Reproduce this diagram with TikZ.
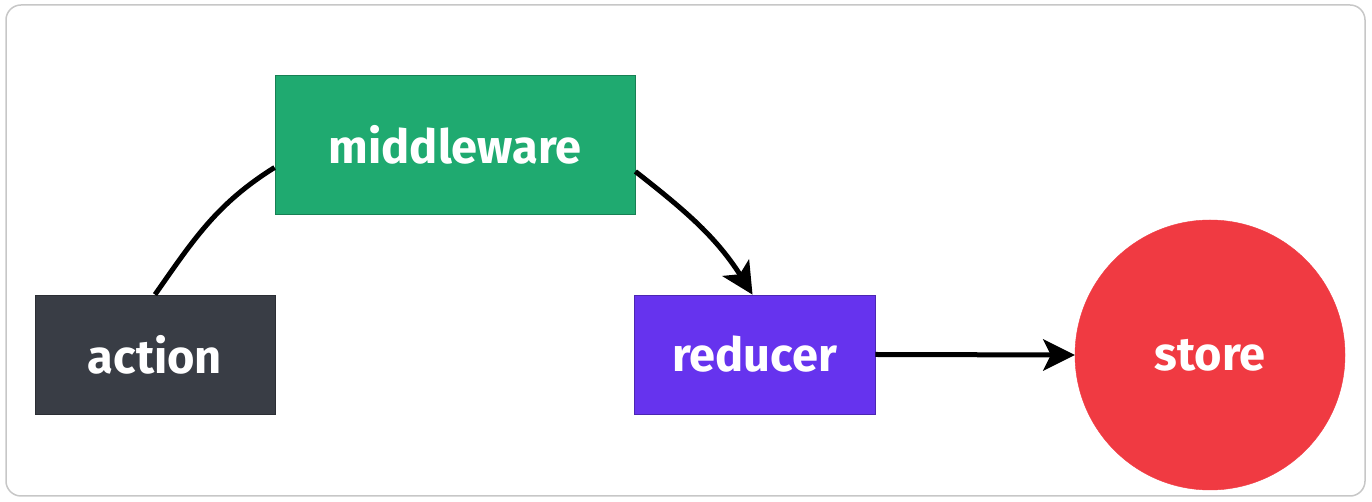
\documentclass[tikz,border=0pt]{standalone}
\usepackage{fontspec}
\setmainfont{Fira Sans}
\definecolor{mwgreen}{HTML}{1FAA70}
\definecolor{actdark}{HTML}{393D45}
\definecolor{redpurple}{HTML}{6633EE}
\definecolor{storered}{HTML}{F03A42}
\tikzset{
  box/.style={rectangle, draw=#1!75!black, fill=#1, line width=0.8pt, inner sep=0pt, text=white, font=\fontsize{47}{50}\selectfont\bfseries},
  conn/.style={line width=5pt, draw=black},
  headfill/.style={fill=black},
}
\begin{document}
\begin{tikzpicture}[x=1pt,y=1pt]
\useasboundingbox (0,0) rectangle (1372,502);
\draw[rounded corners=15pt, draw=black!22, line width=1.5pt, fill=white] (6,6) rectangle (1365,497);
\node[box=mwgreen, minimum width=360pt, minimum height=139pt] (mw) at (455,357.5) {middleware};
\node[box=actdark, minimum width=240pt, minimum height=119pt] (act) at (155,147.5) {action};
\node[box=redpurple, minimum width=241pt, minimum height=119pt] (red) at (754.5,147.5) {reducer};
\node[circle, fill=storered, draw=storered, minimum size=270pt, inner sep=0pt, text=white, font=\fontsize{47}{50}\selectfont\bfseries] (st) at (1210,147) {store};
\coordinate (redtop) at ([xshift=-2pt]red.north);
\draw[conn] (act.north) to[out=55, in=212] ([yshift=-23pt]mw.west);
\draw[conn, shorten >=20pt] ([yshift=-27pt]mw.east) to[out=-38, in=122] (redtop);
\fill[headfill, shift={(redtop)}, rotate=-58] (0,0) -- (-32,16) -- (-24,0) -- (-32,-16) -- cycle;
\draw[conn, shorten >=20pt] (red.east) -- (st.west);
\fill[headfill, shift={(st.west)}] (0,0) -- (-32,16) -- (-24,0) -- (-32,-16) -- cycle;
\end{tikzpicture}
\end{document}
